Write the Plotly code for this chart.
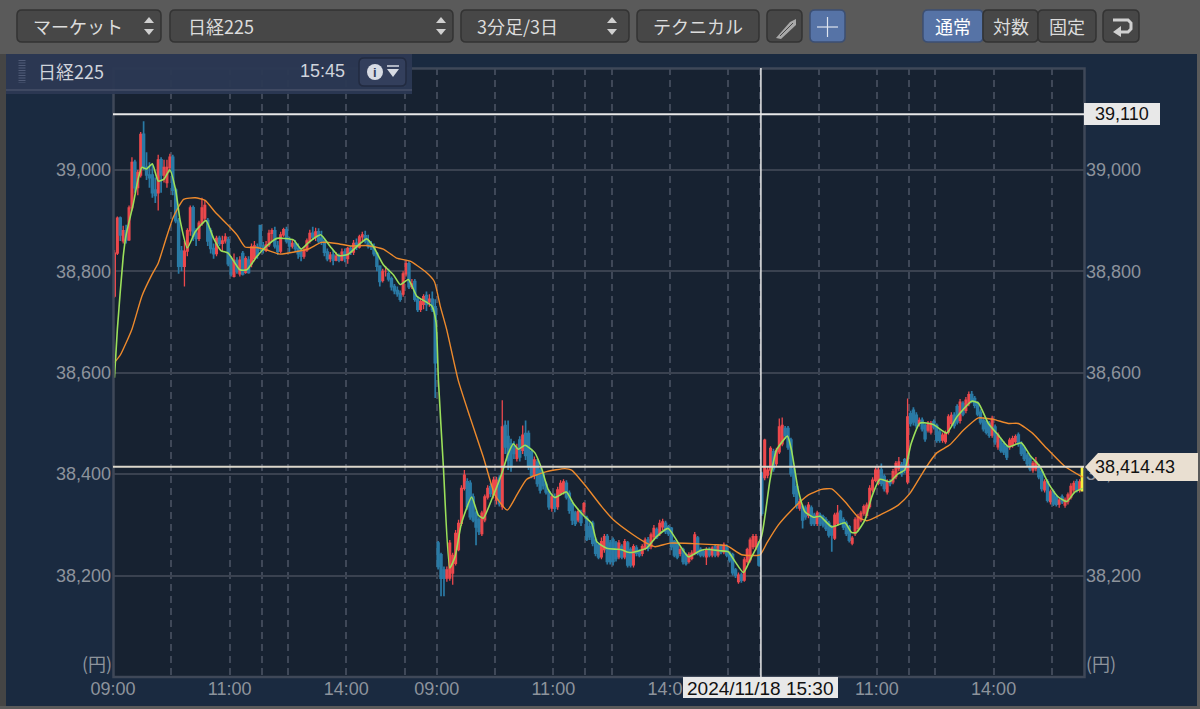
import plotly.graph_objects as go

# ---- candle data, one list per session ----
opens_day1 = [38751,38836,38905,38860,38880,38862,38925,39015,38965,38990,
39070,39005,38990,38990,38960,38955,39020,38990,38975,39005,
39025,38960,38900,38840,38810,38840,38880,38925,38875,38865,
38895,38905,38900,38880,38845,38835,38865,38855,38860,38862,
38825,38790,38820,38795,38835,38798,38822,38815,38825,38848,
38890,38850,38842,38852,38875,38880,38850,38840,38872,38882,
38860,38850,38855,38845,38838,38830,38842,38860,38875,38868,
38878,38865,38860,38838,38825,38832,38822,38830,38822,38838,
38825,38845,38838,38855,38848,38868,38870,38860,38850,38848,
38835,38810,38782,38800,38795,38785,38770,38762,38756,38755,
38795,38815,38770,38780,38745,38725,38735,38752,38740,38745,38730]
closes_day1 = [38836,38905,38872,38880,38862,38925,39015,38965,38995,39070,
39005,38990,38985,38955,38950,39020,38990,39005,39005,39025,
38960,38900,38810,38810,38840,38880,38925,38870,38865,38895,
38925,38930,38860,38845,38835,38865,38855,38860,38868,38815,
38795,38822,38800,38822,38795,38825,38798,38848,38850,38832,
38850,38842,38852,38875,38880,38850,38840,38872,38882,38860,
38850,38855,38845,38835,38830,38842,38860,38875,38868,38878,
38860,38860,38838,38825,38832,38822,38830,38822,38838,38825,
38845,38838,38855,38848,38868,38872,38860,38850,38848,38835,
38810,38780,38800,38800,38785,38770,38762,38756,38745,38795,
38815,38770,38775,38745,38725,38740,38750,38735,38745,38725,38620]
highs_day1 = [38842,38908,38908,38890,38892,38930,39025,39020,39000,39075,
39096,39035,39015,39010,38985,39030,39025,39020,39020,39032,
39030,38965,38905,38850,38860,38885,38930,38930,38885,38900,
38945,38940,38905,38885,38855,38870,38870,38870,38875,38868,
38830,38835,38828,38830,38840,38830,38830,38855,38860,38855,
38892,38858,38860,38882,38885,38888,38860,38878,38886,38888,
38868,38862,38862,38855,38845,38848,38865,38882,38888,38886,
38885,38880,38865,38845,38838,38842,38838,38835,38845,38845,
38848,38850,38862,38865,38872,38878,38880,38872,38860,38855,
38838,38812,38805,38810,38805,38790,38775,38770,38762,38800,
38822,38820,38785,38785,38750,38745,38755,38760,38755,38760,38745]
lows_day1 = [38748,38832,38860,38855,38855,38860,38920,38955,38950,38985,
39000,38980,38965,38945,38935,38920,38955,38975,38965,38995,
38950,38895,38795,38800,38770,38830,38870,38860,38850,38860,
38890,38900,38850,38835,38825,38830,38850,38840,38855,38810,
38790,38788,38795,38790,38792,38795,38795,38808,38820,38825,
38840,38835,38838,38848,38860,38845,38832,38835,38868,38855,
38838,38845,38838,38825,38820,38825,38838,38855,38862,38860,
38855,38852,38830,38820,38818,38812,38820,38818,38820,38818,
38815,38832,38832,38842,38845,38860,38855,38845,38842,38830,
38800,38770,38778,38790,38780,38762,38755,38750,38740,38750,
38790,38765,38765,38740,38720,38720,38725,38722,38730,38720,38550]

opens_day2 = [38264,38241,38211,38195,38195,38205,38224,38251,38303,38372,
38385,38382,38355,38323,38310,38283,38310,38355,38375,38359,
38349,38392,38336,38496,38474,38460,38454,38431,38467,38447,
38480,38480,38444,38398,38424,38408,38401,38380,38365,38333,
38355,38336,38362,38365,38382,38362,38342,38323,38310,38323,
38326,38313,38296,38303,38270,38260,38237,38251,38277,38264,
38270,38264,38237,38257,38237,38264,38251,38221,38254,38247,
38244,38254,38270,38257,38277,38290,38283,38296,38303,38296,
38293,38267,38264,38244,38251,38241,38228,38234,38244,38274,
38251,38247,38237,38251,38241,38257,38241,38257,38247,38257,
38244,38241,38211,38188,38201,38191,38228,38231,38257,38257,38264]
closes_day2 = [38218,38195,38195,38211,38264,38240,38283,38303,38372,38398,
38336,38316,38310,38296,38287,38323,38355,38372,38362,38388,
38388,38342,38493,38454,38428,38415,38441,38451,38434,38477,
38437,38415,38398,38428,38382,38369,38378,38365,38336,38355,
38333,38369,38382,38385,38355,38329,38310,38303,38326,38305,
38342,38272,38277,38264,38244,38237,38267,38277,38228,38228,
38228,38234,38264,38237,38267,38221,38221,38257,38244,38241,
38257,38270,38254,38280,38293,38277,38303,38306,38287,38283,
38257,38241,38237,38251,38228,38224,38241,38244,38280,38244,
38241,38241,38251,38241,38254,38241,38257,38247,38260,38241,
38231,38206,38201,38201,38191,38231,38251,38270,38277,38277,38221]
highs_day2 = [38268,38245,38218,38218,38270,38245,38290,38310,38378,38408,
38392,38388,38362,38328,38315,38328,38360,38378,38382,38395,
38395,38398,38546,38506,38506,38470,38465,38460,38475,38496,
38506,38486,38450,38435,38430,38412,38405,38385,38370,38360,
38362,38375,38388,38390,38388,38368,38348,38328,38332,38330,
38345,38318,38305,38308,38275,38265,38275,38282,38282,38270,
38275,38268,38270,38262,38272,38268,38256,38262,38260,38252,
38262,38275,38276,38285,38300,38295,38310,38312,38308,38300,
38296,38270,38268,38258,38255,38245,38246,38250,38286,38278,
38256,38252,38256,38256,38258,38262,38262,38262,38265,38262,
38248,38245,38215,38206,38206,38236,38255,38275,38282,38282,38268]
lows_day2 = [38212,38159,38159,38188,38190,38182,38220,38248,38298,38368,
38330,38310,38305,38260,38280,38278,38305,38350,38355,38352,
38340,38336,38330,38440,38408,38405,38430,38425,38425,38440,
38428,38408,38392,38390,38375,38362,38370,38360,38330,38326,
38325,38330,38358,38360,38350,38322,38300,38298,38305,38298,
38320,38268,38270,38258,38238,38232,38232,38245,38222,38222,
38220,38228,38232,38232,38232,38216,38216,38216,38238,38236,
38238,38250,38248,38252,38272,38272,38278,38290,38282,38278,
38250,38236,38232,38238,38222,38220,38224,38230,38240,38240,
38236,38236,38221,38236,38236,38236,38236,38242,38242,38236,
38226,38200,38195,38184,38186,38188,38224,38226,38252,38250,38218]

opens_day3 = [38401,38393,38398,38408,38444,38421,38444,38460,38490,38490,
38467,38408,38375,38333,38336,38333,38319,38333,38319,38303,
38319,38316,38310,38303,38296,38274,38303,38326,38310,38303,
38296,38264,38283,38293,38310,38323,38319,38336,38369,38388,
38382,38408,38395,38365,38385,38385,38395,38411,38418,38428,
38385,38519,38526,38516,38500,38506,38496,38487,38483,38503,
38496,38483,38467,38464,38483,38500,38516,38533,38506,38539,
38526,38539,38557,38549,38539,38522,38506,38503,38500,38477,
38493,38454,38467,38460,38454,38454,38457,38464,38477,38460,
38451,38437,38431,38408,38411,38415,38405,38369,38385,38346,
38365,38355,38341,38355,38339,38346,38355,38369,38385,38369,38368]
closes_day3 = [38323,38467,38408,38451,38411,38447,38493,38496,38477,38454,
38401,38362,38339,38346,38310,38316,38339,38303,38303,38323,
38303,38300,38293,38280,38280,38319,38323,38306,38296,38283,
38270,38274,38310,38316,38323,38336,38339,38372,38388,38408,
38408,38382,38372,38385,38382,38405,38421,38424,38401,38408,
38513,38500,38503,38496,38506,38490,38470,38500,38500,38493,
38467,38467,38477,38480,38513,38516,38496,38503,38542,38519,
38546,38557,38546,38536,38519,38503,38490,38483,38477,38510,
38464,38477,38447,38444,38434,38467,38470,38474,38460,38441,
38431,38421,38411,38421,38424,38395,38372,38385,38349,38365,
38342,38341,38349,38346,38349,38359,38376,38382,38369,38385,38414]
highs_day3 = [38405,38470,38415,38455,38450,38452,38510,38512,38495,38495,
38472,38412,38380,38352,38340,38338,38345,38338,38324,38328,
38324,38320,38315,38308,38300,38324,38339,38330,38315,38308,
38300,38278,38315,38322,38328,38340,38344,38378,38394,38414,
38415,38421,38400,38390,38390,38410,38426,38434,38424,38432,
38549,38525,38532,38522,38512,38512,38500,38505,38505,38508,
38500,38488,38482,38486,38518,38522,38522,38538,38548,38544,
38552,38563,38564,38554,38544,38528,38512,38508,38505,38515,
38498,38482,38472,38465,38458,38472,38476,38478,38482,38465,
38456,38442,38436,38426,38434,38420,38410,38390,38390,38370,
38370,38360,38354,38360,38354,38364,38382,38387,38390,38390,38414]
lows_day3 = [38318,38388,38392,38400,38405,38415,38440,38455,38470,38448,
38395,38355,38332,38328,38293,38310,38313,38298,38298,38298,
38298,38295,38288,38275,38247,38270,38298,38300,38290,38278,
38265,38260,38278,38288,38305,38318,38314,38332,38364,38384,
38378,38376,38366,38360,38376,38380,38390,38406,38395,38402,
38380,38494,38496,38490,38494,38484,38464,38482,38478,38488,
38462,38462,38462,38460,38478,38495,38490,38498,38500,38514,
38520,38534,38540,38530,38514,38498,38484,38478,38472,38472,
38458,38448,38442,38438,38428,38448,38452,38460,38454,38436,
38426,38416,38406,38403,38406,38390,38366,38364,38344,38340,
38337,38336,38334,38341,38334,38340,38350,38364,38364,38364,38368]

# ---- moving averages ----
ma_fast_pos = [0,1,3,4,6.5,8,9.4,11,13,15,17,19,21,22.5,25,27.7,31.4,34,36.5,39,43,45.4,48.8,52,55.7,61.4,64,67,70.7,74,76.8,80,83.7,86.5,88.8,92.2,95.7,98,100.8,103.7,108.8,110.3,
111.1,112.8,115,116.8,119,122.5,124.8,126.5,129.3,132.8,135,136.8,138.5,140.8,144.2,146.5,148.8,151,155,157.4,160.8,163.7,165.4,168.8,172.2,173.9,176.2,177.9,182.5,185.9,189.9,193.4,196.8,200.8,203,207.6,210.5,212.8,215.7,218,
221.9,224.8,227,230.8,232.2,234.5,236.8,239.7,242,246,250.5,252.8,254.5,257.4,259.7,262.5,265.9,268.8,271,273.2,276.3,280.8,285.4,288.9,294,296.3,299.7,303.1,306.6,311,314,317.4,320.3,323.7,326.6,329.4,332]
ma_fast = [38590,38686,38829,38872,38934,38979,39005,39002,39012,38978,38982,39000,38960,38901,38846,38878,38900,38865,38841,38836,38803,38803,38829,38849,38865,38862,38844,38859,38872,38849,38831,38833,38852,38864,38849,38813,38793,38774,38784,38751,38732,38699,
38585,38415,38215,38237,38303,38355,38319,38313,38349,38401,38440,38460,38449,38457,38442,38411,38369,38354,38365,38342,38319,38303,38267,38254,38252,38251,38246,38246,38254,38277,38293,38264,38237,38249,38252,38249,38247,38228,38206,38231,
38277,38388,38447,38475,38447,38369,38326,38315,38317,38296,38304,38285,38285,38310,38355,38390,38385,38401,38408,38460,38501,38498,38481,38513,38544,38540,38500,38477,38454,38462,38437,38415,38382,38355,38346,38365,38372]
ma_slow_pos = [0,2,6,9.4,12.8,15,17.4,20.2,23.7,27.7,31.1,34.5,39,42,44.8,48.8,52.2,56.8,62.5,66.5,71,76.2,80.8,86.5,92.2,96.8,101.4,106.5,109.7,111.7,113.9,
117.9,121.9,126.5,130.5,134.7,138,141.4,148.2,154.5,156.8,161.4,167.1,171.1,178,182.5,185.4,190.5,198.5,205.4,210,215.1,221.4,
223.7,227.7,231.7,238,242.5,246,250.5,255.1,258,263.1,268.8,272.8,278.5,282,286.5,291.2,296.3,301.4,306.6,310,315,319.7,326,332]
ma_slow = [38620,38635,38686,38751,38793,38816,38859,38907,38942,38945,38940,38917,38891,38872,38848,38847,38842,38834,38839,38844,38857,38855,38850,38851,38844,38826,38820,38800,38780,38732,38686,
38585,38513,38434,38359,38329,38359,38390,38405,38411,38408,38378,38336,38310,38280,38264,38257,38264,38263,38261,38259,38241,38241,
38264,38300,38326,38359,38370,38371,38346,38315,38308,38321,38339,38362,38415,38442,38458,38487,38511,38508,38500,38500,38480,38451,38415,38394]

# ---- axis labels ----
price_ticks = [38200, 38400, 38600, 38800, 39000]
price_labels = ["38,200", "38,400", "38,600", "38,800", "39,000"]
time_ticks = [-0.5,19.5,39.5,50.5,59.5,79.5,99.5,110.5,130.5,150.5,161.5,170.5,190.5,210.5,221.5,241.5,261.5,272.5,281.5,301.5,321.5]
time_labels = ["09:00","","11:00","","","14:00","","09:00","","11:00","","","14:00","","09:00","","11:00","","","14:00",""]
cross_price = 39110
last_price = 38414.43
cross_bar = 221.7

opens = opens_day1 + opens_day2 + opens_day3
highs = highs_day1 + highs_day2 + highs_day3
lows = lows_day1 + lows_day2 + lows_day3
closes = closes_day1 + closes_day2 + closes_day3
bars = list(range(len(opens)))

# ---- page geometry helpers (pixel to paper) ----
L, R, T, B = 113, 1084, 68, 677
def px(x): return (x - L) / (R - L)
def py(y): return (B - y) / (B - T)

SANS = "Liberation Sans, Arial, sans-serif"
JP = "Noto Sans CJK JP, Liberation Sans, sans-serif"
shapes, notes = [], []

def rect(x0, y0, x1, y1, fill, line=None, w=1, opacity=1):
    shapes.append(dict(type="rect", xref="paper", yref="paper", x0=px(x0), x1=px(x1), y0=py(y0), y1=py(y1),
                       fillcolor=fill, line=dict(color=line or fill, width=w if line else 0), opacity=opacity, layer="above"))

def poly(points, fill=None, line=None, w=1, dash=None):
    d = "M" + " L".join(f"{px(a):.5f},{py(b):.5f}" for a, b in points) + (" Z" if fill else "")
    ln = dict(color=line or "rgba(0,0,0,0)", width=w if line else 0)
    if dash:
        ln["dash"] = dash
    shapes.append(dict(type="path", xref="paper", yref="paper", path=d, fillcolor=fill or "rgba(0,0,0,0)", line=ln, layer="above"))

def button(x0, y0, x1, y1, fill="#474747", r=5, line="#333333"):
    p = lambda a, b: f"{px(a):.5f},{py(b):.5f}"
    d = (f"M{p(x0+r,y0)} L{p(x1-r,y0)} Q{p(x1,y0)} {p(x1,y0+r)} L{p(x1,y1-r)} Q{p(x1,y1)} {p(x1-r,y1)} "
         f"L{p(x0+r,y1)} Q{p(x0,y1)} {p(x0,y1-r)} L{p(x0,y0+r)} Q{p(x0,y0)} {p(x0+r,y0)} Z")
    shapes.append(dict(type="path", xref="paper", yref="paper", path=d, fillcolor=fill, line=dict(color=line, width=1.5), layer="above"))

def text(x, y, s, size=18, color="#dcdcdc", anchor="left", font=JP):
    notes.append(dict(xref="paper", yref="paper", x=px(x), y=py(y), text=s, showarrow=False, xanchor=anchor, yanchor="middle",
                      font=dict(size=size, color=color, family=font), borderpad=0))

def updown(x, y):
    poly([(x-5, y-3), (x+5, y-3), (x, y-9)], fill="#d0d0d0")
    poly([(x-5, y+3), (x+5, y+3), (x, y+9)], fill="#d0d0d0")

# plot frame, above the marks like the reference
shapes.append(dict(type="rect", xref="paper", yref="paper", x0=px(113.5), x1=px(1084.5), y0=py(68.5), y1=py(677),
                   fillcolor="rgba(0,0,0,0)", line=dict(color="#3f4858", width=2.5), layer="above"))

# chrome: outer rims and toolbar
rect(0, 0, 1200, 54, "#5a5a5a")
rect(0, 54, 6, 709, "#454545")
rect(1197, 54, 1200, 709, "#5a5a5a")
rect(0, 706, 1200, 709, "#5a5a5a")

button(17, 10, 161, 42); text(32, 26, "マーケット"); updown(149, 26)
button(170, 10, 453, 42); text(187, 26, "日経225"); updown(441, 26)
button(461, 10, 629, 42); text(476, 26, "3分足/3日"); updown(612, 26)
button(637, 10, 759, 42); text(698, 26, "テクニカル", anchor="center")
button(767, 10, 802, 42)
poly([(776, 38), (790, 22), (796, 19), (796, 25), (781, 39)], fill="#a8a8a8")
poly([(780, 36), (793, 23)], line="#474747", w=1)
button(810, 10, 845, 42, fill="#5673a6", line="#3c4f73")
poly([(827.5, 17), (827.5, 37)], line="#dfe5ef", w=1.2)
poly([(817, 27), (838, 27)], line="#dfe5ef", w=1.2)
button(923, 10, 983, 42, fill="#5673a6", line="#3c4f73"); text(953, 26, "通常", anchor="center", color="#ffffff")
button(983, 10, 1038, 42); text(1010.5, 26, "対数", anchor="center")
button(1038, 10, 1096, 42); text(1067, 26, "固定", anchor="center")
button(1103, 10, 1139, 42)
poly([(1113, 20), (1128, 20), (1131, 23), (1131, 29), (1128, 32), (1119, 32)], line="#d0d0d0", w=3)
poly([(1121, 26), (1113, 32), (1121, 37)], fill="#d0d0d0")

# floating header panel
rect(6, 54, 412, 94, "#2c3853", opacity=0.96)
poly([(6, 90), (412, 90)], line="#475169", w=1.5)
poly([(22, 60), (22, 83)], line="#515c78", w=7, dash="1px,1.5px")
text(37, 71, "日経225", color="#d0d4dc")
text(346, 71, "15:45", anchor="right", color="#d0d4dc", font=SANS)
button(359, 58, 406, 86, fill="#333f5c", line="#222b40")
shapes.append(dict(type="circle", xref="paper", yref="paper", x0=px(367), x1=px(383), y0=py(64), y1=py(80), fillcolor="#d8dce4", line=dict(width=0), layer="above"))
text(375, 72, "<b>i</b>", size=13, color="#333f5c", anchor="center", font=SANS)
poly([(387, 66), (399, 66)], line="#d8dce4", w=1.5)
poly([(387, 69), (399, 69), (393, 77)], fill="#d8dce4")

# crosshair read-outs
shapes.append(dict(type="line", xref="x", yref="paper", x0=cross_bar, x1=cross_bar, y0=0, y1=1, line=dict(color="#e8e8e8", width=1.5), layer="above"))
shapes.append(dict(type="line", xref="paper", yref="y", x0=0, x1=1, y0=cross_price, y1=cross_price, line=dict(color="#e8e8e8", width=2), layer="above"))
shapes.append(dict(type="line", xref="paper", yref="y", x0=0, x1=1, y0=last_price, y1=last_price, line=dict(color="#dcd8cc", width=2), layer="above"))
rect(1084, 103, 1160, 125, "#e8e8e8")
text(1122, 114.5, f"{cross_price:,}", color="#111111", anchor="center", font=SANS)
poly([(1085, 467), (1098, 453), (1198, 453), (1198, 481), (1098, 481)], fill="#e9dfd1")
text(1094, 467, f"{last_price:,.2f}", color="#111111", font=SANS)
rect(683, 677, 838, 698, "#e8e8e8")
text(760.5, 688, "2024/11/18 15:30", size=19, color="#111111", anchor="center", font=SANS)
text(113, 663, "(円)", color="#8d939c", anchor="right")
text(1085, 663, "(円)", color="#8d939c")

fig = go.Figure()
fig.add_trace(go.Candlestick(x=bars[:-1], open=opens[:-1], high=highs[:-1], low=lows[:-1], close=closes[:-1], whiskerwidth=0,
    increasing=dict(line=dict(color="#ec484c", width=1.3), fillcolor="#f24a4d"),
    decreasing=dict(line=dict(color="#2a7aa5", width=1.7), fillcolor="#2a7aa5"), hoverinfo="skip", showlegend=False))
fig.add_trace(go.Scatter(x=ma_slow_pos, y=ma_slow, mode="lines", line=dict(color="#ee8a2c", width=1.4, shape="spline", smoothing=0.5), yaxis="y2", hoverinfo="skip", showlegend=False))
fig.add_trace(go.Scatter(x=ma_fast_pos, y=ma_fast, mode="lines", line=dict(color="#9be05a", width=1.6, shape="spline", smoothing=0.5), yaxis="y2", hoverinfo="skip", showlegend=False))
fig.add_trace(go.Candlestick(x=bars[-1:], open=opens[-1:], high=highs[-1:], low=lows[-1:], close=closes[-1:], whiskerwidth=0, yaxis="y2",
    increasing=dict(line=dict(color="#f4f13c", width=2), fillcolor="rgba(0,0,0,0)"), hoverinfo="skip", showlegend=False))

tickfont = dict(size=18, color="#8d939c", family=SANS)
fig.update_layout(
    width=1200, height=709, margin=dict(l=L, r=1200 - R, t=T, b=709 - B, pad=0), boxgap=0.15,
    paper_bgcolor="#1a2a40", plot_bgcolor="#172231", showlegend=False, shapes=shapes, annotations=notes,
    xaxis=dict(range=[-0.5, 332.5], rangeslider=dict(visible=False), tickmode="array", tickvals=time_ticks, ticktext=time_labels,
               tickfont=tickfont, showgrid=True, gridcolor="#3f4858", griddash="7px,5px", gridwidth=1.5, zeroline=False, ticks="", automargin=False,
               showline=False, ticklabelstandoff=-1),
    yaxis=dict(range=[38000, 39201], tickmode="array", tickvals=price_ticks, ticktext=price_labels, tickfont=tickfont, automargin=False,
               showgrid=True, gridcolor="#3a4250", gridwidth=1.5, zeroline=False, ticks="", showline=False, ticklabelstandoff=1),
    yaxis2=dict(overlaying="y", side="right", matches="y", tickmode="array", tickvals=price_ticks, ticktext=price_labels, tickfont=tickfont, automargin=False,
                showgrid=False, zeroline=False, ticks="", ticklabelstandoff=1),
)
fig.write_html("out.html", config={"displayModeBar": False},
               post_script="document.body.style.margin='0';document.documentElement.style.overflow='hidden';")
